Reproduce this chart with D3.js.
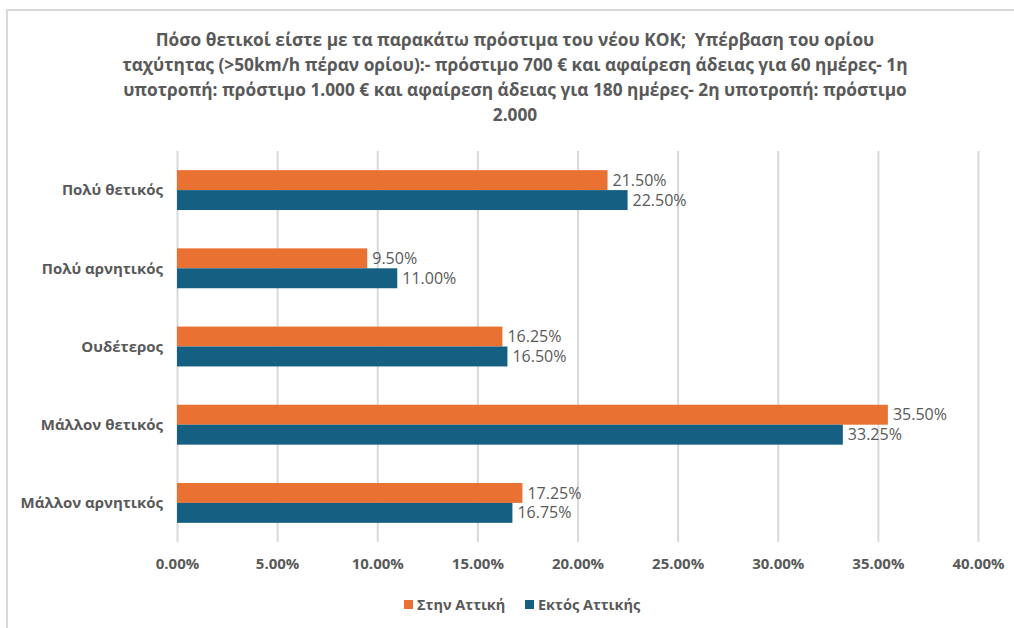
<!DOCTYPE html>
<html>
<head>
<meta charset="utf-8">
<script src="https://cdn.jsdelivr.net/npm/d3@7"></script>
<style>
  body { margin: 0; background: #fff; }
  text { font-family: "Open Sans", "Noto Sans", sans-serif; }
</style>
</head>
<body>
<div id="chart"></div>
<script>
const categories = ["Πολύ θετικός", "Πολύ αρνητικός", "Ουδέτερος", "Μάλλον θετικός", "Μάλλον αρνητικός"];
const seriesNames = ["Στην Αττική", "Εκτός Αττικής"];
const atticaValues = [21.5, 9.5, 16.25, 35.5, 17.25];
const outsideValues = [22.5, 11.0, 16.5, 33.25, 16.75];
const xTicks = [0, 5, 10, 15, 20, 25, 30, 35, 40];
const titleLines = [
  "Πόσο θετικοί είστε με τα παρακάτω πρόστιμα του νέου ΚΟΚ;  Υπέρβαση του ορίου",
  "ταχύτητας (>50km/h πέραν ορίου):- πρόστιμο 700 € και αφαίρεση άδειας για 60 ημέρες- 1η",
  "υποτροπή: πρόστιμο 1.000 € και αφαίρεση άδειας για 180 ημέρες- 2η υποτροπή: πρόστιμο",
  "2.000"
];

const width = 1014, height = 628;
const margin = { top: 151, right: 36, bottom: 86, left: 177 };
const colors = ["#E97132", "#156082"];
const textColor = "#595959";

const data = categories.map((c, i) => ({ cat: c, values: [atticaValues[i], outsideValues[i]] }));

const svg = d3.select("#chart").append("svg")
  .attr("width", width).attr("height", height);

// outer chart border
svg.append("rect")
  .attr("x", 7).attr("y", 10)
  .attr("width", width + 20).attr("height", height + 20)
  .attr("fill", "none").attr("stroke", "#d9d9d9").attr("stroke-width", 2);

const x = d3.scaleLinear().domain([0, 40]).range([margin.left, width - margin.right]);
const y = d3.scaleBand().domain(categories)
  .range([margin.top, height - margin.bottom]).paddingInner(0.49).paddingOuter(0.245);
const ySub = d3.scaleBand().domain([0, 1]).range([0, y.bandwidth()]);

// title
svg.append("g").selectAll("text").data(titleLines).join("text")
  .attr("x", 515).attr("y", (d, i) => 46 + i * 25)
  .attr("text-anchor", "middle")
  .attr("font-size", 17.3).attr("font-weight", "bold")
  .attr("fill", textColor)
  .style("white-space", "pre")
  .text(d => d);

// gridlines
svg.append("g")
  .attr("transform", `translate(0,${height - margin.bottom})`)
  .call(d3.axisBottom(x).tickValues(xTicks).tickSize(-(height - margin.bottom - margin.top))
    .tickFormat(d => d.toFixed(2) + "%").tickPadding(16))
  .call(g => g.select(".domain").remove())
  .call(g => g.selectAll(".tick line").attr("stroke", "#d9d9d9").attr("stroke-width", 2))
  .call(g => g.selectAll(".tick text")
    .attr("fill", textColor).attr("font-size", 15).attr("font-weight", "bold"));

// category labels
svg.append("g").selectAll("text").data(categories).join("text")
  .attr("x", margin.left - 14)
  .attr("y", d => y(d) + y.bandwidth() / 2)
  .attr("dy", "0.35em")
  .attr("text-anchor", "end")
  .attr("font-size", 15).attr("font-weight", "bold")
  .attr("fill", textColor)
  .text(d => d);

// bars
const groups = svg.append("g").selectAll("g").data(data).join("g")
  .attr("transform", d => `translate(0,${y(d.cat)})`);

groups.selectAll("rect").data(d => d.values.map((v, i) => ({ v, i }))).join("rect")
  .attr("x", x(0))
  .attr("y", d => ySub(d.i))
  .attr("width", d => x(d.v) - x(0))
  .attr("height", ySub.bandwidth())
  .attr("fill", d => colors[d.i]);

groups.selectAll("text").data(d => d.values.map((v, i) => ({ v, i }))).join("text")
  .attr("x", d => x(d.v) + 5)
  .attr("y", d => ySub(d.i) + ySub.bandwidth() / 2)
  .attr("dy", "0.35em")
  .attr("font-size", 16)
  .attr("fill", textColor)
  .text(d => d.v.toFixed(2) + "%");

// legend
const legend = svg.append("g").attr("transform", "translate(0,605)");
const legendX = [404, 525];
seriesNames.forEach((name, i) => {
  legend.append("rect").attr("x", legendX[i]).attr("y", -5)
    .attr("width", 9).attr("height", 9).attr("fill", colors[i]);
  legend.append("text").attr("x", legendX[i] + 13).attr("y", 0).attr("dy", "0.35em")
    .attr("font-size", 14.5).attr("font-weight", "bold").attr("fill", textColor)
    .text(name);
});
</script>
</body>
</html>
